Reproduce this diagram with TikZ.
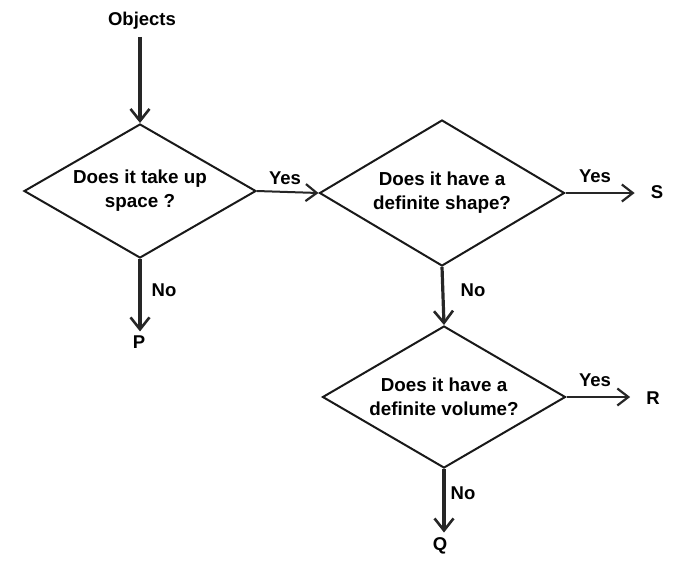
\documentclass[tikz,border=0pt]{standalone}
\usepackage{fontspec}
\setmainfont{Liberation Sans}
\usetikzlibrary{shapes.geometric,arrows.meta}
\tikzset{
  decision/.style={diamond, draw=black!90, line width=2pt, inner sep=0pt, align=center,
    font=\fontsize{18.8}{24}\selectfont\bfseries},
  lbl/.style={inner sep=0pt, font=\fontsize{18.5}{20}\selectfont\bfseries},
  thickarrow/.style={line width=3.2pt, draw=black!85, -{Straight Barb[length=12pt,width=19pt,line width=2.6pt]}},
  thinarrow/.style={line width=2pt, draw=black!85, -{Straight Barb[length=11pt,width=17pt,line width=2.2pt]}},
}
\begin{document}
\begin{tikzpicture}[x=1pt,y=-1pt]
\useasboundingbox (0,0) rectangle (692,566);
\node[decision, shape aspect=1.73, minimum width=232pt, minimum height=134pt] (d1) at (140,191) {Does it take up\\space ?};
\node[decision, shape aspect=1.68, minimum width=245pt, minimum height=146pt] (d2) at (442,193) {Does it have a\\definite shape?};
\node[decision, shape aspect=1.71, minimum width=243pt, minimum height=142pt] (d3) at (444,397) {Does it have a\\definite volume?};
\node[lbl] (obj) at (142,21) {Objects};
\node[lbl] (P) at (139,342) {P};
\node[lbl] (S) at (657,192) {S};
\node[lbl] (R) at (653,398) {R};
\node[lbl] (Q) at (440,546) {Q};
\node[lbl] (y1) at (285,178) {Yes};
\node[lbl] (y2) at (595,176) {Yes};
\node[lbl] (y3) at (595,380) {Yes};
\node[lbl] (n1) at (164,290) {No};
\node[lbl] (n2) at (473,290) {No};
\node[lbl] (n3) at (463,493) {No};
\draw[thickarrow, shorten <=7pt] (obj.south -| d1.north) -- (d1.north);
\draw[thickarrow, shorten >=4pt] (d1.south) -- (d1.south |- P.north);
\draw[thinarrow] (d1.east) -- (d2.west);
\draw[thinarrow, shorten >=16pt] (d2.east) -- (d2.east -| S.west);
\draw[thickarrow] (d2.south) -- (d3.north);
\draw[thinarrow, shorten >=16pt] (d3.east) -- (d3.east -| R.west);
\draw[thickarrow, shorten >=5pt] (d3.south) -- (d3.south |- Q.north);
\end{tikzpicture}
\end{document}
